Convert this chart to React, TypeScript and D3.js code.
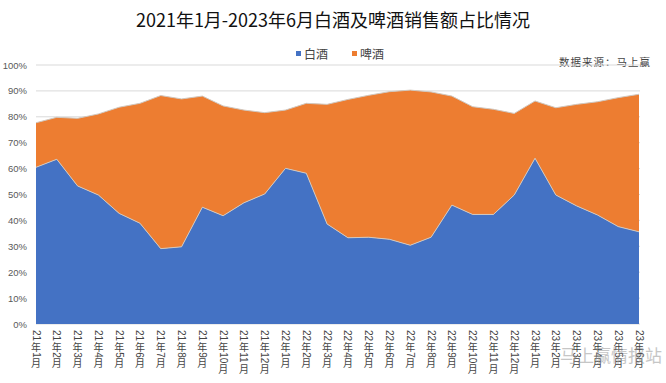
import React from "react";
import * as d3 from "d3";

const categories = [
  "21年1月","21年2月","21年3月","21年4月","21年5月","21年6月","21年7月","21年8月","21年9月","21年10月","21年11月","21年12月",
  "22年1月","22年2月","22年3月","22年4月","22年5月","22年6月","22年7月","22年8月","22年9月","22年10月","22年11月","22年12月",
  "23年1月","23年2月","23年3月","23年4月","23年5月","23年6月",
];
const baijiu = [60.5,63.6,53.3,49.8,42.7,38.9,29.1,29.8,45.1,41.8,46.8,50.2,60.1,58.2,38.6,33.3,33.5,32.7,30.4,33.5,45.9,42.3,42.3,49.8,64.0,49.8,45.6,42.1,37.6,35.6];
const totals = [77.7,79.8,79.4,81.1,83.7,85.2,88.2,86.9,88.0,84.2,82.6,81.6,82.6,85.2,84.8,86.7,88.3,89.7,90.3,89.6,88.0,83.9,82.9,81.3,86.1,83.5,84.8,85.8,87.4,88.7];
const pijiu = totals.map((t, i) => +(t - baijiu[i]).toFixed(1));
const yTicks = [0,10,20,30,40,50,60,70,80,90,100];
const seriesNames = ["白酒", "啤酒"];
const colors = ["#4472C4", "#ED7D31"];

const font = "'Noto Sans CJK SC', 'Noto Sans', sans-serif";

function VerticalLabel({ x, y, text, fs }: { x: number; y: number; text: string; fs: number }) {
  const runs: { t: string; digit: boolean }[] = [];
  for (const ch of text) {
    const digit = /[0-9]/.test(ch);
    const last = runs[runs.length - 1];
    if (digit && last && last.digit) last.t += ch;
    else runs.push({ t: ch, digit });
  }
  let cy = y;
  const els: React.ReactNode[] = [];
  runs.forEach((r, i) => {
    if (r.digit) {
      els.push(
        <text key={i} transform={`translate(${x},${cy}) rotate(90)`} dominantBaseline="central"
          fontSize={fs} fontFamily="'Liberation Sans', Arial, sans-serif" fill="#444">{r.t}</text>
      );
      cy += r.t.length * fs * 0.56 + 1;
    } else {
      els.push(
        <text key={i} x={x} y={cy + fs * 0.86} textAnchor="middle" fontSize={fs} fontFamily={font} fill="#444">{r.t}</text>
      );
      cy += fs;
    }
  });
  return <g>{els}</g>;
}

export default function App() {
  const W = 666, H = 383;
  const left = 36, right = 639, top = 65, bottom = 324;
  const x = d3.scalePoint<string>().domain(categories).range([left, right]);
  const y = d3.scaleLinear().domain([0, 100]).range([bottom, top]);
  const rows = categories.map((c, i) => ({ c, b: baijiu[i], p: pijiu[i] }));
  const stack = d3.stack<any>().keys(["b", "p"])(rows);
  const area = d3.area<any>()
    .x((d) => x(d.data.c)!)
    .y0((d) => y(d[0]))
    .y1((d) => y(d[1]));
  const topLine = d3.line<any>().x((d) => x(d.data.c)!).y((d) => y(d[1]));
  return (
    <svg width={W} height={H} style={{ position: "absolute", left: 0, top: 0, background: "#fff" }}>
      <text x={333} y={27} textAnchor="middle" fontSize={18} fontFamily={font} fill="#111">
        2021年1月-2023年6月白酒及啤酒销售额占比情况
      </text>
      {seriesNames.map((n, i) => (
        <g key={n} transform={`translate(${296 + i * 56},51)`}>
          <rect x={0} y={0} width={5} height={5} fill={colors[i]} />
          <text x={8} y={7.5} fontSize={12} fontFamily={font} fill="#444">{n}</text>
        </g>
      ))}
      <text x={651} y={66} textAnchor="end" fontSize={10.5} fontFamily="'Noto Sans CJK SC', serif" fill="#444" letterSpacing={1}>
        数据来源：马上赢
      </text>
      {yTicks.map((t) => (
        <g key={t}>
          <line x1={left} x2={right + 1} y1={y(t)} y2={y(t)} stroke="#d9d9d9" strokeWidth={1} />
          <text x={27} y={y(t) + 3.5} textAnchor="end" fontSize={9.5} fontFamily="'Liberation Sans', Arial, sans-serif" fill="#595959">
            {t}%
          </text>
        </g>
      ))}
      {stack.map((s, i) => (
        <path key={i} d={area(s)!} fill={colors[i]} />
      ))}
      {stack.map((s, i) => (
        <path key={"l" + i} d={topLine(s)!} fill="none" stroke="#d0c8c0" strokeWidth={1} />
      ))}
      {categories.map((c) => (
        <VerticalLabel key={c} x={x(c)!} y={330} text={c} fs={10} />
      ))}
      <text x={662} y={362} textAnchor="end" fontSize={17} fontFamily={font} fill="#999" opacity={0.55}>
        马上赢情报站
      </text>
    </svg>
  );
}
